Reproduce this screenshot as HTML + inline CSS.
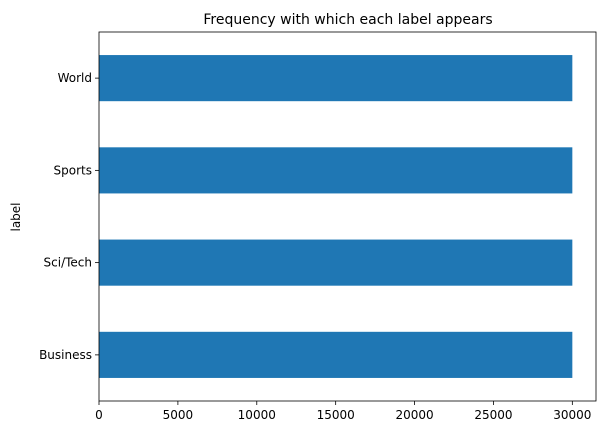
<!DOCTYPE html>
<html><head><meta charset="utf-8"><style>
body{margin:0;background:#fff;}
svg{display:block;font-family:"DejaVu Sans","Liberation Sans",sans-serif;}
</style></head><body>
<svg id="chart" width="606" height="435">
<text x="348" y="24" font-size="14" text-anchor="middle">Frequency with which each label appears</text>
<text transform="translate(20,217) rotate(-90)" font-size="12" text-anchor="middle">label</text>
<g id="bars"></g><g id="axes"></g>
</svg>
<script>
const categories = ["Business","Sci/Tech","Sports","World"];
const counts = [30000,30000,30000,30000];
const xTicks = [0,5000,10000,15000,20000,25000,30000];
const L=99,R=596,T=32,B=401;
const xMax = Math.max(...counts)*1.05;
const xs = v => L + v/xMax*(R-L);
const unit = (B-T)/categories.length;
const yc = i => B - (i+0.5)*unit;
const NS="http://www.w3.org/2000/svg";
const bars=document.getElementById('bars'), axes=document.getElementById('axes');
function mk(tag,attrs,parent,text){const e=document.createElementNS(NS,tag);for(const k in attrs)e.setAttribute(k,attrs[k]);if(text!==undefined)e.textContent=text;parent.appendChild(e);return e;}
categories.forEach((c,i)=>{
  const r=mk('rect',{x:L,y:yc(i)-unit*0.25,width:xs(counts[i])-L,height:unit*0.5,fill:'#1f77b4'},bars);
  
  
  const t=mk('line',{x1:L-4,x2:L,y1:yc(i),y2:yc(i),stroke:'#000','stroke-width':0.8},axes);
  
  
  const lb=mk('text',{x:L-7,y:yc(i)+4,'font-size':12,'text-anchor':'end'},axes,c);
  
  
});
xTicks.forEach(v=>{
  const t=mk('line',{x1:xs(v),x2:xs(v),y1:B,y2:B+4,stroke:'#000','stroke-width':0.8},axes);
  
  
  const lb=mk('text',{x:xs(v),y:B+18,'font-size':12,'text-anchor':'middle'},axes,String(v));
  
  
});
const fr=mk('rect',{x:L,y:T,width:R-L,height:B-T,fill:'none',stroke:'#000','stroke-width':0.8},axes);


</script>
</body></html>
